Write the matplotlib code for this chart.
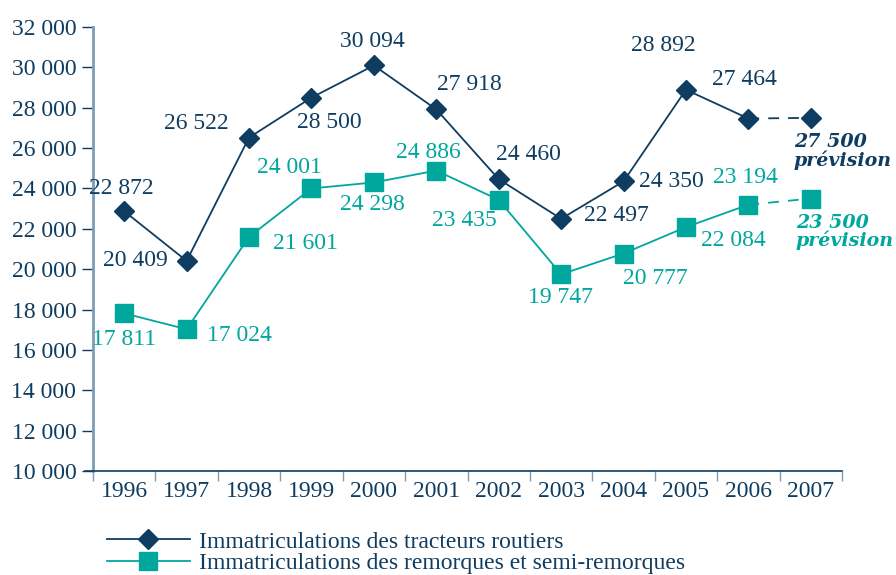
import matplotlib
matplotlib.use("Agg")
import matplotlib.pyplot as plt
import numpy as np

years = ["1996", "1997", "1998", "1999", "2000", "2001", "2002", "2003",
         "2004", "2005", "2006", "2007"]
tracteurs = [22872, 20409, 26522, 28500, 30094, 27918, 24460, 22497,
             24350, 28892, 27464, 27500]
remorques = [17811, 17024, 21601, 24001, 24298, 24886, 23435, 19747,
             20777, 22084, 23194, 23500]
tracteurs_labels = ["22 872", "20 409", "26 522", "28 500", "30 094", "27 918",
                    "24 460", "22 497", "24 350", "28 892", "27 464"]
remorques_labels = ["17 811", "17 024", "21 601", "24 001", "24 298", "24 886",
                    "23 435", "19 747", "20 777", "22 084", "23 194"]
prevision_tracteurs = "27 500\nprévision"
prevision_remorques = "23 500\nprévision"
legend_labels = ["Immatriculations des tracteurs routiers",
                 "Immatriculations des remorques et semi-remorques"]

NAVY = "#0f3d61"
TEAL = "#00a79d"
SPINE = "#7d9db4"
FS = 17

plt.rcParams["font.family"] = ["Liberation Serif", "DejaVu Serif"]

fig = plt.figure(figsize=(8.96, 5.75), dpi=100)
ax = fig.add_axes([93 / 896, 1 - 471 / 575, (842 - 93) / 896, (471 - 27) / 575])

x = np.arange(len(years))

# solid part up to 2006, dashed forecast 2006 -> 2007
l1, = ax.plot(x[:-1], tracteurs[:-1], color=NAVY, lw=1.3, marker="D", ms=10,
              mfc=NAVY, mec=NAVY, clip_on=False)
ax.plot(x[-2:], tracteurs[-2:], color=NAVY, lw=1.3, ls=(0, (6, 5)))
ax.plot(x[-1], tracteurs[-1], marker="D", ms=10, color=NAVY, clip_on=False)

l2, = ax.plot(x[:-1], remorques[:-1], color=TEAL, lw=1.3, marker="s", ms=12.5,
              mfc=TEAL, mec=TEAL, clip_on=False)
ax.plot(x[-2:], remorques[-2:], color=TEAL, lw=1.3, ls=(0, (6, 5)))
ax.plot(x[-1], remorques[-1], marker="s", ms=12.5, color=TEAL, clip_on=False)

# label offsets in pixels (dx, dy)
off_t = [(-3, 23), (-51, 0), (-53, 14), (18, -25), (-2, 24), (33, 25),
         (30, 25), (55, 3), (48, 0), (-23, 44), (-4, 39)]
off_r = [(0, -26), (53, -6), (56, -7), (-22, 21), (-2, -22), (-8, 18),
         (-34, -21), (-1, -23), (32, -25), (47, -13), (-3, 27)]

for i, lab in enumerate(tracteurs_labels):
    ax.annotate(lab, (x[i], tracteurs[i]), xytext=off_t[i],
                textcoords="offset pixels", ha="center", va="center",
                fontsize=FS, color=NAVY)
for i, lab in enumerate(remorques_labels):
    ax.annotate(lab, (x[i], remorques[i]), xytext=off_r[i],
                textcoords="offset pixels", ha="center", va="center",
                fontsize=FS, color=TEAL)

ax.annotate(prevision_tracteurs, (x[-1], tracteurs[-1]), xytext=(-17, -15),
            textcoords="offset pixels", ha="left", va="top", fontsize=13.7,
            color=NAVY, fontweight="heavy", fontstyle="italic",
            family="DejaVu Serif", linespacing=0.95)
ax.annotate(prevision_remorques, (x[-1], remorques[-1]), xytext=(-15, -15),
            textcoords="offset pixels", ha="left", va="top", fontsize=13.7,
            color=TEAL, fontweight="heavy", fontstyle="italic",
            family="DejaVu Serif", linespacing=0.95)

ax.set_xlim(-0.5, len(years) - 0.5)
ax.set_ylim(10000, 32000)
ax.set_yticks(np.arange(10000, 32001, 2000))
ax.set_yticklabels([f"{v // 1000} 000" for v in range(10000, 32001, 2000)])
ax.tick_params(axis="y", direction="out", length=8, width=1, color=NAVY,
               labelcolor=NAVY, labelsize=FS, pad=4)

ax.set_xticks(x)
ax.set_xticklabels(years)
ax.set_xticks(np.arange(-0.5, len(years)), minor=True)
ax.tick_params(axis="x", which="major", length=0, labelcolor=NAVY,
               labelsize=FS, pad=7)
ax.tick_params(axis="x", which="minor", direction="out", length=7,
               width=1, color=SPINE)

for s in ["top", "right"]:
    ax.spines[s].set_visible(False)
ax.spines["left"].set_color(SPINE)
ax.spines["left"].set_linewidth(2)
ax.spines["bottom"].set_color(NAVY)
ax.spines["bottom"].set_linewidth(1.2)
ax.spines["bottom"].set_bounds(-0.63, len(years) - 0.5)

fig.legend([l1, l2], legend_labels, loc="upper left",
           bbox_to_anchor=(107 / 896, 1 - 531 / 575), frameon=False,
           fontsize=FS, labelcolor=NAVY, handlelength=3.5, handletextpad=0.4,
           labelspacing=0.0, borderpad=0, borderaxespad=0)

fig.savefig("out.png", dpi=100)
